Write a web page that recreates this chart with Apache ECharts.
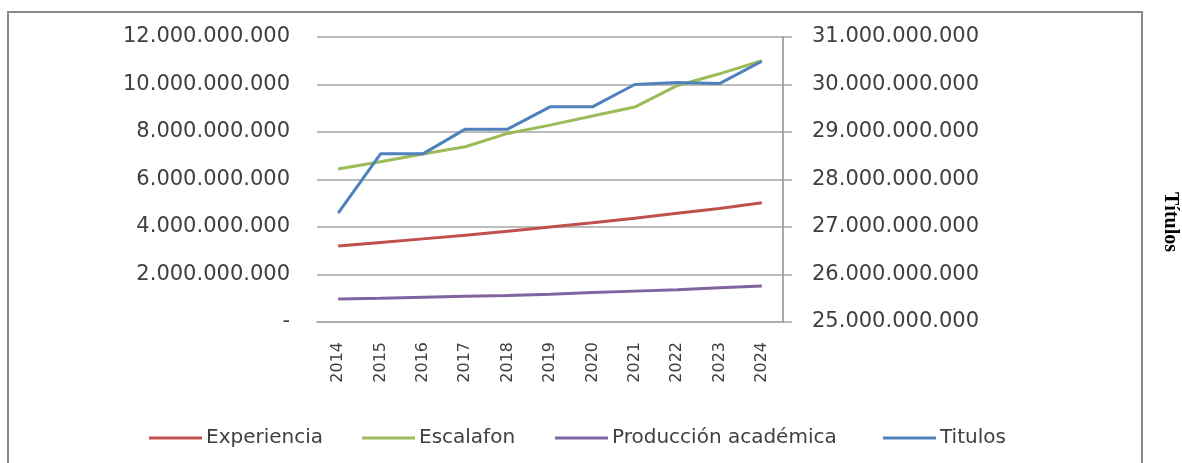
<!DOCTYPE html>
<html>
<head>
<meta charset="utf-8">
<script src="https://cdn.jsdelivr.net/npm/echarts@6/dist/echarts.min.js"></script>
<style>
  html, body { margin: 0; padding: 0; background: #fff; }
  #chart { width: 1182px; height: 463px; }
</style>
</head>
<body>
<div id="chart"></div>
<script>
// Years on the category axis
const years = ['2014', '2015', '2016', '2017', '2018', '2019', '2020', '2021', '2022', '2023', '2024'];

// Left-axis series (pesos)
const experiencia = [3.20e9, 3.35e9, 3.50e9, 3.65e9, 3.82e9, 4.00e9, 4.18e9, 4.37e9, 4.58e9, 4.78e9, 5.02e9];
const escalafon   = [6.44e9, 6.75e9, 7.07e9, 7.38e9, 7.94e9, 8.29e9, 8.67e9, 9.05e9, 9.95e9, 10.45e9, 11.0e9];
const produccion  = [0.97e9, 1.00e9, 1.04e9, 1.08e9, 1.12e9, 1.17e9, 1.24e9, 1.30e9, 1.36e9, 1.44e9, 1.52e9];

// Right-axis series (pesos)
const titulos     = [27.29e9, 28.54e9, 28.54e9, 29.06e9, 29.06e9, 29.53e9, 29.53e9, 30.0e9, 30.04e9, 30.02e9, 30.49e9];

// Axis ranges
const leftMin = 0, leftMax = 12e9, leftStep = 2e9;
const rightMin = 25e9, rightMax = 31e9, rightStep = 1e9;

// Thousands separated with dots; zero shown as a dash
function fmt(v) {
  if (v === 0) return '-';
  return String(Math.round(v)).replace(/\B(?=(\d{3})+(?!\d))/g, '.');
}

const colors = {
  experiencia: '#C0504D',
  escalafon: '#9BBB59',
  produccion: '#8064A2',
  titulos: '#4F81BD'
};

const labelFont = 'DejaVu Sans';
const gridColor = '#a6a6a6';

// One legend block per series so each entry sits at its own place
function legendAt(name, left) {
  return {
    data: [name],
    left: left,
    top: 427,
    padding: 0,
    icon: 'rect',
    itemWidth: 53,
    itemHeight: 3,
    selectedMode: false,
    textStyle: { fontFamily: labelFont, fontSize: 20, color: '#404040', lineHeight: 22, padding: [0, 0, 0, -1] }
  };
}

const chart = echarts.init(document.getElementById('chart'), null, { renderer: 'canvas' });

chart.setOption({
  animation: false,
  backgroundColor: '#fff',
  grid: { left: 317, right: 399, top: 37, bottom: 141, containLabel: false },
  legend: [
    legendAt('Experiencia', 149),
    legendAt('Escalafon', 362),
    legendAt('Producción académica', 555),
    legendAt('Titulos', 883)
  ],
  xAxis: {
    type: 'category',
    data: years,
    boundaryGap: true,
    axisLine: { show: true, lineStyle: { color: gridColor, width: 1.5 } },
    axisTick: { show: false },
    axisLabel: { rotate: 90, margin: 20, fontFamily: labelFont, fontSize: 16, color: '#404040' }
  },
  yAxis: [
    {
      type: 'value',
      min: leftMin, max: leftMax, interval: leftStep,
      axisLine: { show: false },
      axisTick: { show: false },
      splitLine: { show: true, lineStyle: { color: gridColor, width: 1.5 } },
      axisLabel: { margin: 27, fontFamily: labelFont, fontSize: 21, color: '#404040', formatter: fmt }
    },
    {
      type: 'value',
      position: 'right',
      min: rightMin, max: rightMax, interval: rightStep,
      axisLine: { show: true, lineStyle: { color: '#8c8c8c', width: 1.5 } },
      axisTick: { show: true, length: 9, inside: false, lineStyle: { color: gridColor, width: 1.5 } },
      splitLine: { show: false },
      axisLabel: { margin: 29, fontFamily: labelFont, fontSize: 21, color: '#404040', formatter: fmt }
    }
  ],
  series: [
    { name: 'Experiencia', type: 'line', yAxisIndex: 0, data: experiencia, showSymbol: false,
      color: colors.experiencia, lineStyle: { width: 3, color: colors.experiencia } },
    { name: 'Escalafon', type: 'line', yAxisIndex: 0, data: escalafon, showSymbol: false,
      color: colors.escalafon, lineStyle: { width: 3, color: colors.escalafon } },
    { name: 'Producción académica', type: 'line', yAxisIndex: 0, data: produccion, showSymbol: false,
      color: colors.produccion, lineStyle: { width: 3, color: colors.produccion } },
    { name: 'Titulos', type: 'line', yAxisIndex: 1, data: titulos, showSymbol: false,
      color: colors.titulos, lineStyle: { width: 3, color: colors.titulos } }
  ],
  graphic: [
    {
      type: 'rect',
      silent: true,
      z: -1,
      shape: { x: 8, y: 12, width: 1134, height: 470 },
      style: { fill: 'none', stroke: '#8a8a8a', lineWidth: 2 }
    },
    {
      type: 'text',
      x: 1170, y: 222,
      rotation: -Math.PI / 2,
      style: {
        text: 'Títulos',
        x: 0, y: 0,
        align: 'center',
        verticalAlign: 'middle',
        font: 'bold 20px "Liberation Serif"',
        fill: '#000'
      }
    }
  ]
});
</script>
</body>
</html>
